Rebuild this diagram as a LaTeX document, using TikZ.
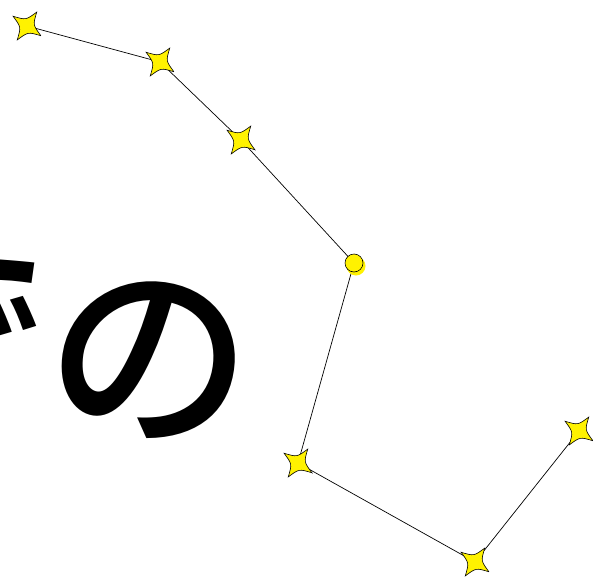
\documentclass[tikz,border=0pt]{standalone}
\usepackage{fontspec}
\usetikzlibrary{calc}
\newfontfamily\jp{Noto Sans CJK JP Medium}
\begin{document}
\begin{tikzpicture}[x=1pt,y=-1pt,
  link/.style={draw=black,line width=0.7pt},
  starshape/.pic={\draw[fill=yellow,line width=0.6pt,rotate=-35]
    (0:17) .. controls (45:6) .. (90:17) .. controls (135:6) .. (180:17)
    .. controls (225:6) .. (270:17) .. controls (315:6) .. cycle;}]
\useasboundingbox (0,0) rectangle (593,578);
\node[rotate=-8,inner sep=0pt,font=\jp\fontsize{205}{246}\selectfont] (txt) at (48,345) {での};
\coordinate (s1) at (27,26);
\coordinate (s2) at (160,62);
\coordinate (s3) at (241,140);
\coordinate (s4) at (354,263);
\coordinate (s5) at (298,463);
\coordinate (s6) at (475,562);
\coordinate (s7) at (579,431);
\draw[link] (s1) -- (s2) -- (s3) -- (s4) -- (s5) -- (s6) -- (s7);
\fill[yellow] ($(s4)+(2,3)$) circle (9.5);
\draw[fill=yellow,line width=0.6pt] (s4) circle (9);
\foreach \s in {s1,s2,s3,s5,s6,s7} \pic at (\s) {starshape};
\end{tikzpicture}
\end{document}
